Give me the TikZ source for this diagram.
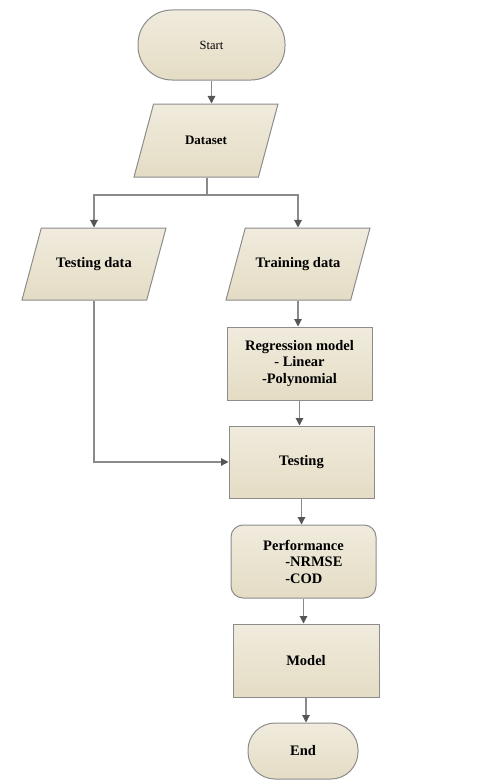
\documentclass[tikz,border=0pt]{standalone}
\usepackage{fontspec}
\setmainfont{Liberation Serif}
\usetikzlibrary{shapes.geometric, arrows.meta}

\definecolor{boxtop}{HTML}{F0EBDD}
\definecolor{boxbot}{HTML}{E4DCC4}
\definecolor{boxline}{HTML}{8C8C8C}
\definecolor{arrline}{HTML}{8A8A8A}
\definecolor{arrhead}{HTML}{555555}

\begin{document}
\begin{tikzpicture}[x = 1pt, y = -1pt, line width = 1pt,
                      box/.style = {draw = boxline, top color = boxtop, bottom color = boxbot,
                                    align = center, inner sep = 0pt,
                                    font = \fontsize{14.5}{16.5}\selectfont\bfseries},
                      terminal/.style = {box, rectangle, rounded corners = 27pt},
                      io/.style = {box, trapezium, trapezium left angle = 75, trapezium right angle = 105,
                                   trapezium stretches body = true, minimum width = 144pt,
                                   text height = 10pt, text depth = 3pt, inner ysep = 29.5pt},
                      process/.style = {box, rectangle, minimum width = 145pt, minimum height = 73pt},
                      arr/.style = {draw = arrline, line width = 1.2pt,
                                    -{Triangle[width = 7.5pt, length = 7.5pt, color = arrhead]}}]
    \useasboundingbox (0, 0) rectangle (483, 784);

    \node [terminal, minimum width = 147pt, minimum height = 70pt, rounded corners = 34pt,
           font = \fontsize{12.5}{14}\selectfont] (start) at (211.5, 45){Start};
    \node [io, inner ysep = 30pt, font = \fontsize{13}{14}\selectfont\bfseries] (dataset) at (206, 140.5){Dataset};
    \node [io] (testdata) at (94, 264){Testing data};
    \node [io] (traindata) at (298, 264){Training data};
    \node [process] (regress) at (299.5, 363.5){Regression model\\- Linear\\-Polynomial};
    \node [process, minimum height = 72pt] (testing) at (301.5, 462){Testing};
    \node [process, rounded corners = 12pt, align = left] (perf) at (303.5, 561.5)
          {Performance\\\hspace*{22pt}-NRMSE\\\hspace*{22pt}-COD};
    \node [process, minimum width = 146pt] (model) at (306, 660.5){Model};
    \node [terminal, minimum width = 110pt, minimum height = 56pt] (stop) at (303, 751){End};

    \coordinate (fork) at (207, 195);

    \draw [arr] (start) -- (start |- dataset.north);
    \draw [draw = arrline, line width = 1.2pt] (dataset.south -| fork) -- (fork);
    \draw [arr] (fork) -| (testdata.north);
    \draw [arr] (fork) -| (traindata.north);
    \draw [arr] (traindata.south) -- (traindata.south |- regress.north);
    \draw [arr] (regress.south) -- (regress.south |- testing.north);
    \draw [arr] (testdata.south) |- (testing.west);
    \draw [arr] (testing.south) -- (testing.south |- perf.north);
    \draw [arr] (perf.south) -- (perf.south |- model.north);
    \draw [arr] (model.south) -- (model.south |- stop.north);
\end{tikzpicture}
\end{document}
